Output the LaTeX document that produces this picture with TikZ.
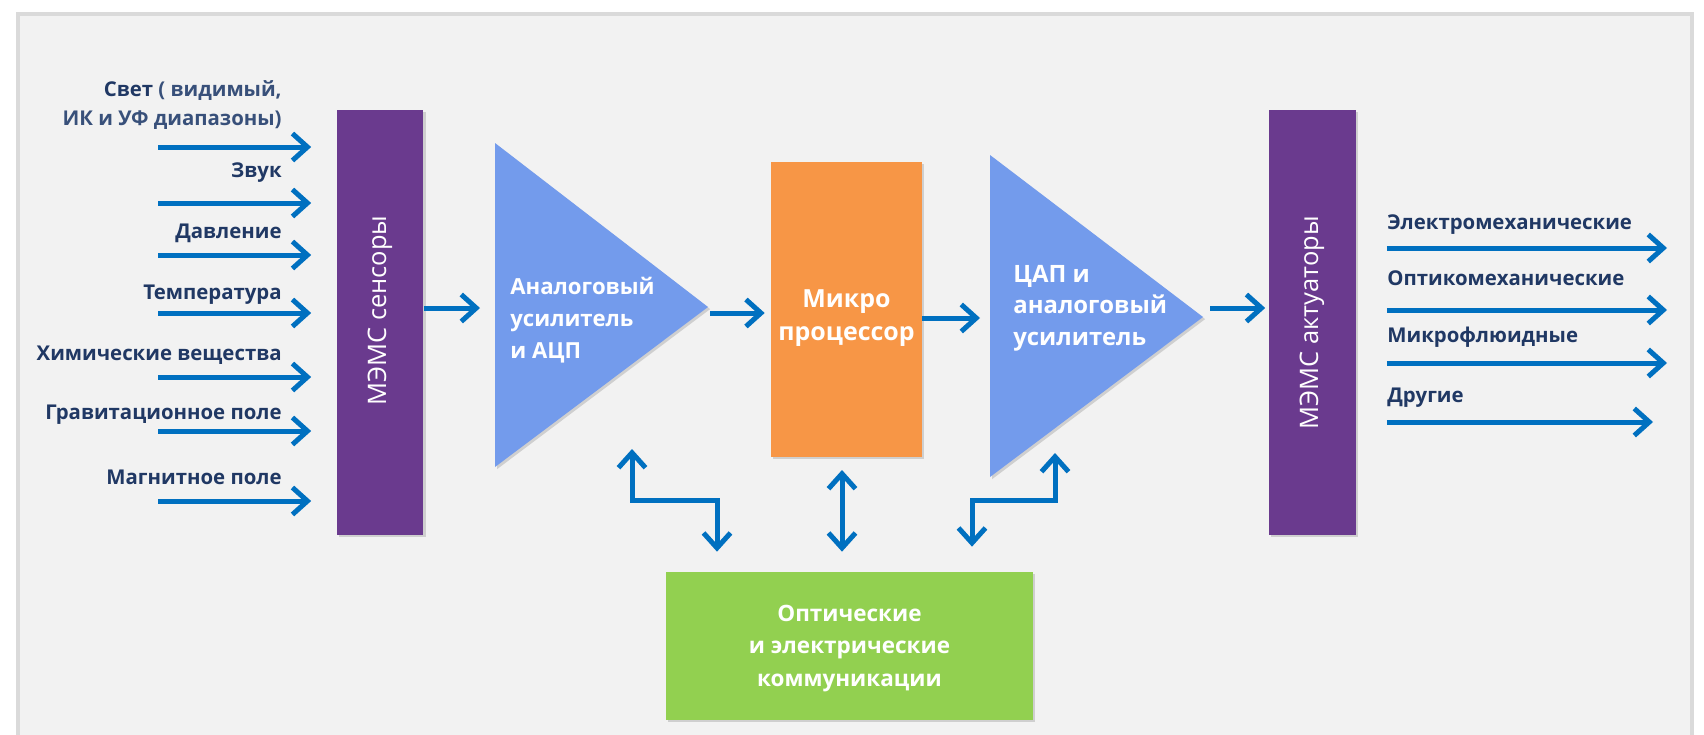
\documentclass[tikz,border=0pt]{standalone}
\usepackage{fontspec}
\setmainfont{Open Sans}
\usetikzlibrary{arrows.meta, positioning, shadows}

\definecolor{navy}{RGB}{32,56,100}
\definecolor{softnavy}{RGB}{56,80,122}
\definecolor{flowblue}{RGB}{0,112,192}
\definecolor{memsviolet}{RGB}{106,58,142}
\definecolor{ampblue}{RGB}{115,155,236}
\definecolor{cpuorange}{RGB}{247,150,70}
\definecolor{commgreen}{RGB}{146,208,80}
\definecolor{panel}{RGB}{242,242,242}
\definecolor{rim}{RGB}{218,218,218}

\begin{document}
\begin{tikzpicture}[x=0.02cm, y=-0.02cm,
    barb/.style={line width=0.1cm, draw=flowblue},
    flow/.style={barb, -{Straight Barb[length=0.3cm, width=0.54cm]}},
    duplex/.style={barb, {Straight Barb[length=0.3cm, width=0.54cm]}-{Straight Barb[length=0.3cm, width=0.54cm]}},
    inlabel/.style={font=\fontsize{11.6}{17}\selectfont\bfseries, text=navy, inner sep=0pt},
    shade/.style={drop shadow={opacity=0.3, shadow xshift=1.2pt, shadow yshift=-1.2pt}},
    block/.style={shade, inner sep=0pt},
    blocktext/.style={text=white, align=center, inner sep=0pt, font=\fontsize{12.8}{18.5}\selectfont\bfseries},
    memsbar/.style={block, fill=memsviolet, minimum width=1.74cm, minimum height=8.5cm},
    memstext/.style={rotate=90, text=white, inner sep=0pt, font=\fontsize{14.5}{16}\selectfont},
    amptext/.style={text=white, align=left, inner sep=0pt, font=\fontsize{12.6}{18.2}\selectfont\bfseries}]

    \useasboundingbox (0,0) rectangle (1704,734);
    \filldraw[fill=panel, draw=rim, line width=0.08cm] (18,14) rectangle (1692,760);

    % sensors and actuators
    \node (sens) [memsbar] at (380,322.5) {};
    \node [memstext] at ([yshift=0.24cm]sens.center) {МЭМС сенсоры};
    \node (act) [memsbar] at (1312,322.5) {};
    \node [memstext] at (act.center) {МЭМС актуаторы};

    % inputs
    \node [inlabel, anchor=east, align=right] at (282,105)
        {Свет {\color{softnavy}( видимый,}\\{\color{softnavy}ИК и УФ диапазоны)}};
    \foreach \y/\ly/\t [count=\i] in {147/0/{},
                                      203/173/Звук,
                                      255/233/Давление,
                                      313/295/Температура,
                                      377/355/Химические вещества,
                                      431/415/Гравитационное поле,
                                      501/477/Магнитное поле}{
        \coordinate (in\i) at (158,\y);
        \draw[flow, shorten >=0.5cm] (in\i) -- (sens.west |- in\i);
        \ifnum\i>1 \node [inlabel, anchor=east] at (282,\ly) {\t}; \fi
    }

    % amplifier and ADC
    \fill[ampblue, shade] (495,143) -- (708,307) -- (495,467) -- cycle;
    \coordinate (adcin) at (480,308);
    \coordinate (adcout) at (710,313);
    \node (adc) [amptext, anchor=west] at (510,320) {Аналоговый\\усилитель\\и АЦП};

    % microprocessor
    \node (cpu) [block, fill=cpuorange, minimum width=3.02cm, minimum height=5.9cm] at (846.5,309.5) {};
    \node [blocktext, font=\fontsize{14.2}{19}\selectfont\bfseries] at ([yshift=-0.17cm]cpu.center) {Микро\\процессор};

    % DAC and amplifier
    \fill[ampblue, shade] (990,155) -- (1203,317) -- (990,477) -- cycle;
    \coordinate (dacin) at (980,318);
    \coordinate (dacout) at (1210,308);
    \node (dac) [amptext, anchor=west, font=\fontsize{13.6}{18}\selectfont\bfseries] at (1013,308) {ЦАП и\\аналоговый\\усилитель};

    % communications
    \node (comm) [block, fill=commgreen, minimum width=7.34cm, minimum height=2.96cm] at (849.5,646) {};
    \node [blocktext] at ([yshift=-0.05cm]comm.center) {Оптические\\и электрические\\коммуникации};

    \draw[flow] (sens.east |- adcin) -- (adcin);
    \draw[flow, shorten >=0.12cm] (adcout) -- (cpu.west |- adcout);
    \draw[flow] (cpu.east |- dacin) -- (dacin);
    \draw[flow, shorten >=0.06cm] (dacout) -- (act.west |- dacout);

    % outputs
    \foreach \y/\ly/\e/\t [count=\i] in {248/225/1667/Электромеханические,
                                         310/278/1667/Оптикомеханические,
                                         363/337/1667/Микрофлюидные,
                                         422/398/1653/Другие}{
        \coordinate (out\i) at (\e,\y);
        \draw[flow, shorten <=0.62cm] (act.east |- out\i) -- (out\i);
        \node [inlabel, anchor=west] at (1387,\ly) {\t};
    }

    % links to communications
    \coordinate (lnk1) at (632,449);
    \coordinate (lnk2) at (842,470);
    \coordinate (lnk3) at (1055,453);
    \draw[duplex] (lnk1) |- (680,500) -| ([yshift=0.4cm]comm.north -| 717,0);
    \draw[duplex] (lnk2) -- ([yshift=0.4cm]comm.north -| lnk2);
    \draw[duplex] ([yshift=0.5cm]comm.north -| 972,0) |- (1010,500) -| (lnk3);
\end{tikzpicture}
\end{document}
